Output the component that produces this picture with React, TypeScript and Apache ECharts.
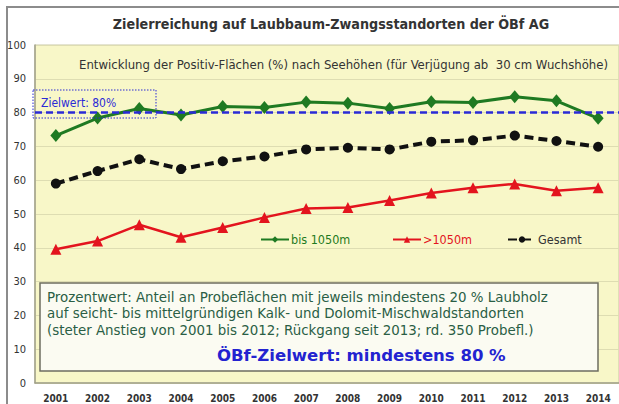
import React, { useEffect, useRef } from "react";
import * as echarts from "echarts";

const years = ["2001","2002","2003","2004","2005","2006","2007","2008","2009","2010","2011","2012","2013","2014"];
const bis1050 = [73.2, 78.4, 81.2, 79.3, 81.8, 81.5, 83.1, 82.8, 81.2, 83.2, 83.0, 84.7, 83.5, 78.3];
const ueber1050 = [39.6, 42.0, 46.8, 43.1, 46.0, 49.0, 51.6, 51.9, 54.0, 56.2, 57.8, 58.9, 56.9, 57.8];
const gesamt = [59.0, 62.7, 66.2, 63.3, 65.6, 67.0, 69.1, 69.6, 69.1, 71.4, 71.8, 73.2, 71.6, 69.9];
const yTicks = { min: 0, max: 100, interval: 10 };
const zielwert = 80;

const titleText = "Zielerreichung auf Laubbaum-Zwangsstandorten der ÖBf AG";
const subtitleText = "Entwicklung der Positiv-Flächen (%) nach Seehöhen (für Verjügung ab  30 cm Wuchshöhe)";
const boxLines = [
  "Prozentwert: Anteil an Probeflächen mit jeweils mindestens 20 % Laubholz",
  "auf seicht- bis mittelgründigen Kalk- und Dolomit-Mischwaldstandorten",
  "(steter Anstieg von 2001 bis 2012; Rückgang seit 2013; rd. 350 Probefl.)",
];
const boxBold = "ÖBf-Zielwert: mindestens 80 %";

const GREEN = "#1f7a22";
const RED = "#e3141e";
const BLACK = "#111111";
const BLUE = "#2b2bd6";

export default function App() {
  const ref = useRef<HTMLDivElement>(null);
  useEffect(() => {
    if (!ref.current) return;
    const chart = echarts.init(ref.current, null, { renderer: "svg" });
    const cond = "'DejaVu Sans Condensed', 'DejaVu Sans', sans-serif";
    const dv = "'DejaVu Sans', sans-serif";
    const legendBase = (left: number, name: string, color: string) => ({
      left,
      top: 233,
      itemWidth: 28,
      itemHeight: 8,
      itemGap: 2,
      padding: 0,
      data: [{ name, textStyle: { color } }],
      textStyle: { fontFamily: cond, fontSize: 12.5, padding: [0, 0, 0, -3] },
    });
    chart.setOption({
      animation: false,
      backgroundColor: "#ffffff",
      title: {
        text: titleText,
        left: 326,
        textAlign: "center",
        top: 12,
        textStyle: { fontFamily: cond, fontWeight: "bold", fontSize: 14.2, color: "#333333" },
      },
      legend: [
        legendBase(260, "bis 1050m", GREEN),
        legendBase(392, ">1050m", RED),
        legendBase(507, "Gesamt", "#333333"),
      ],
      grid: { left: 35, top: 45, width: 585, height: 338, show: true, backgroundColor: "#f8f7c8", borderColor: "#c9c8a4", borderWidth: 1 },
      xAxis: {
        type: "category",
        data: years,
        boundaryGap: true,
        axisLine: { lineStyle: { color: "#a0a08a", width: 1.5 } },
        axisTick: { show: false },
        axisLabel: { color: "#333", fontFamily: cond, fontSize: 10, fontWeight: "bold", margin: 10 },
      },
      yAxis: {
        type: "value",
        min: yTicks.min,
        max: yTicks.max,
        interval: yTicks.interval,
        axisLine: { show: true, lineStyle: { color: "#a0a08a", width: 1.5 } },
        axisTick: { show: false },
        splitLine: { lineStyle: { color: "#deddb2", width: 1 } },
        axisLabel: { color: "#333", fontFamily: cond, fontSize: 11, margin: 9 },
      },
      series: [
        {
          name: "bis 1050m",
          type: "line",
          data: bis1050,
          symbol: "diamond",
          symbolSize: [11, 13],
          itemStyle: { color: GREEN },
          lineStyle: { color: GREEN, width: 3 },
          z: 4,
          markLine: {
            silent: true,
            symbol: "none",
            label: { show: false },
            lineStyle: { color: BLUE, type: [7, 4], width: 2.5 },
            data: [{ yAxis: zielwert }],
          },
        },
        {
          name: ">1050m",
          type: "line",
          data: ueber1050,
          symbol: "triangle",
          symbolSize: 11,
          itemStyle: { color: RED },
          lineStyle: { color: RED, width: 2.5 },
        },
        {
          name: "Gesamt",
          type: "line",
          data: gesamt,
          symbol: "circle",
          symbolSize: 10,
          itemStyle: { color: BLACK },
          lineStyle: { color: BLACK, width: 4, type: [9, 5] },
        },
      ],
      graphic: [
        { type: "rect", shape: { x: 7, y: 7, width: 640, height: 420 }, style: { fill: "none", stroke: "#8c8c8c", lineWidth: 2 }, silent: true, z: 100 },
        { type: "text", left: 79, top: 58, style: { text: subtitleText, fontFamily: cond, fontSize: 13, fill: "#333333" }, z: 10 },
        { type: "rect", shape: { x: 33, y: 90, width: 123, height: 28 }, style: { fill: "none", stroke: BLUE, lineWidth: 1, lineDash: [1.5, 1.5] }, z: 10 },
        { type: "text", left: 41, top: 97, style: { text: "Zielwert: 80%", fontFamily: cond, fontSize: 12, fill: BLUE }, z: 10 },
        { type: "rect", shape: { x: 40, y: 283, width: 558, height: 88 }, style: { fill: "#fbfbf2", stroke: "#6e6e60", lineWidth: 1.5 }, z: 10 },
        { type: "text", left: 47, top: 289, style: { text: boxLines.join("\n"), fontFamily: dv, fontSize: 13.4, lineHeight: 16.5, fill: "#2a5e45" }, z: 11 },
        { type: "text", left: 217, top: 347, style: { text: boxBold, fontFamily: dv, fontSize: 16.5, fontWeight: "bold", fill: "#2323d0" }, z: 11 },
      ],
    });
    return () => chart.dispose();
  }, []);
  return <div ref={ref} style={{ width: 619, height: 404, position: "fixed", left: 0, top: 0 }} />;
}
